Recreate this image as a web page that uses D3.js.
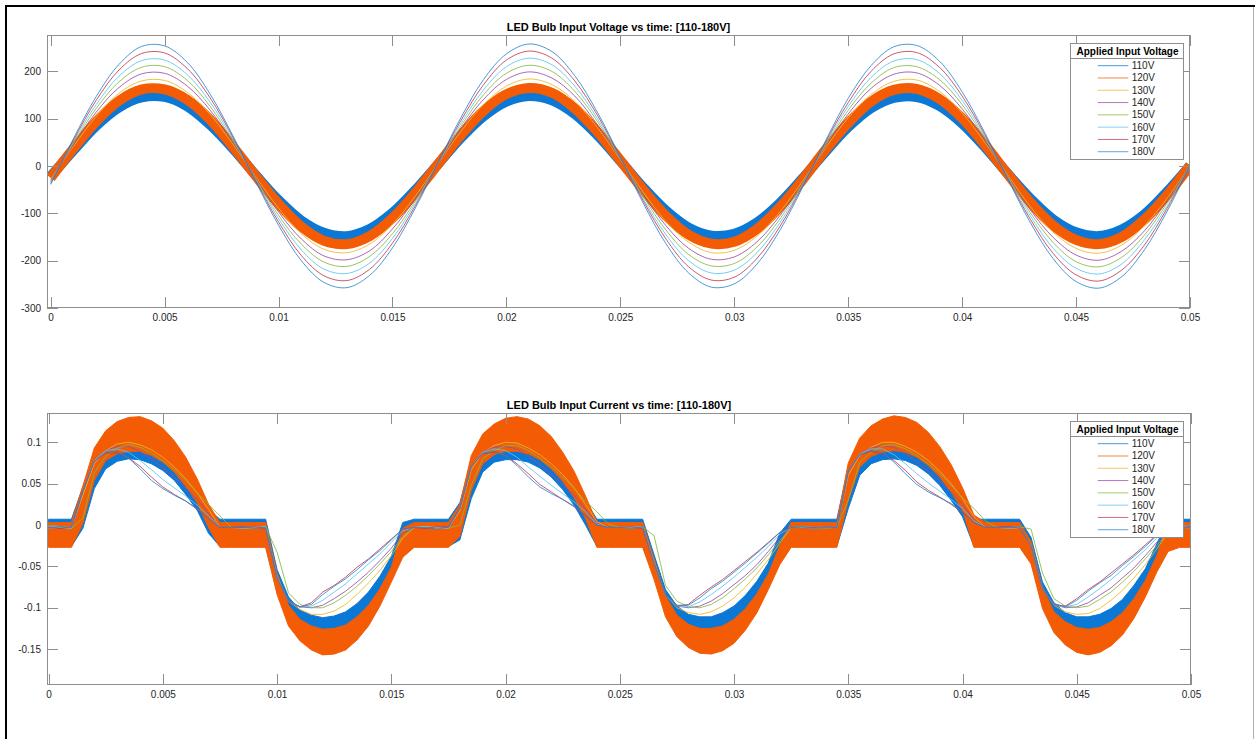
<!DOCTYPE html>
<html>
<head>
<meta charset="utf-8">
<script src="https://cdn.jsdelivr.net/npm/d3@7"></script>
<style>
  body { margin: 0; background: #fff; }
  svg { display: block; font-family: "Liberation Sans", Arial, Helvetica, sans-serif; }
</style>
</head>
<body>
<svg id="chart" width="1255" height="739"></svg>
<script>
// ---------------- data ----------------
const seriesLabels = ["110V", "120V", "130V", "140V", "150V", "160V", "170V", "180V"];

// sample times (ms)
const voltageTimeMs = [0,1,2,3,4,5,6,7,8,9,10,11,12,13,14,15,16,17,18,19,20,21,22,23,24,25,26,27,28,29,30,31,32,33,34,35,36,37,38,39,40,41,42,43,44,45,46,47,48,49,50];
const currentTimeMs = [0,0.5,1,1.5,2,2.5,3,3.5,4,4.5,5,5.5,6,6.5,7,7.5,8,8.5,9,9.5,10,10.5,11,11.5,12,12.5,13,13.5,14,14.5,15,15.5,16,16.5,17,17.5,18,18.5,19,19.5,20,20.5,21,21.5,22,22.5,23,23.5,24,24.5,25,25.5,26,26.5,27,27.5,28,28.5,29,29.5,30,30.5,31,31.5,32,32.5,33,33.5,34,34.5,35,35.5,36,36.5,37,37.5,38,38.5,39,39.5,40,40.5,41,41.5,42,42.5,43,43.5,44,44.5,45,45.5,46,46.5,47,47.5,48,48.5,49,49.5,50];

// input voltage (V)
const v110 = [-22,33,85,124,145,146,126,87,37,-19,-72,-115,-141,-148,-133,-99,-51,4,59,105,136,148,139,110,65,11,-45,-94,-130,-147,-143,-119,-78,-26,30,82,122,144,146,127,90,40,-16,-69,-113,-140,-148,-134,-102,-54,1];
const v120 = [-25,37,94,138,162,162,140,98,41,-21,-80,-128,-158,-165,-148,-110,-57,4,65,117,152,165,155,122,72,12,-50,-105,-145,-164,-160,-133,-87,-29,34,91,136,161,163,142,101,45,-17,-77,-126,-156,-165,-150,-113,-61,1];
const v130 = [-28,42,105,154,180,181,156,109,46,-23,-89,-143,-176,-183,-165,-123,-64,5,73,130,169,184,172,137,81,14,-55,-117,-161,-183,-178,-148,-97,-32,38,102,151,179,182,158,112,50,-19,-86,-140,-174,-184,-167,-126,-68,1];
const v140 = [-30,45,114,166,195,196,169,118,50,-25,-97,-154,-190,-198,-179,-133,-69,5,79,141,183,199,186,148,87,15,-60,-126,-174,-197,-192,-160,-105,-35,41,110,164,194,197,171,121,54,-21,-93,-151,-188,-199,-180,-137,-73,1];
const v150 = [-32,48,122,178,209,210,181,126,53,-27,-104,-165,-203,-212,-191,-143,-74,6,84,151,196,213,200,158,94,16,-64,-135,-187,-211,-206,-171,-112,-37,43,118,175,208,210,183,130,58,-22,-99,-162,-202,-213,-193,-146,-78,1];
const v160 = [-34,52,130,190,223,224,193,135,57,-29,-111,-177,-218,-227,-205,-153,-79,6,90,161,210,228,214,169,100,17,-69,-145,-200,-226,-220,-183,-120,-40,47,126,187,222,225,196,139,62,-24,-106,-174,-216,-228,-207,-156,-84,1];
const v170 = [-37,55,139,203,238,239,206,144,61,-31,-118,-189,-232,-242,-218,-163,-84,7,96,172,224,243,228,180,107,18,-73,-154,-213,-241,-235,-195,-128,-42,50,134,200,237,240,209,148,66,-26,-113,-185,-230,-243,-220,-167,-89,1];
const v180 = [-39,58,147,215,253,254,219,152,64,-33,-125,-200,-246,-257,-231,-173,-89,7,102,183,237,258,242,191,113,19,-78,-164,-226,-256,-249,-207,-136,-45,53,143,212,252,255,222,157,70,-27,-120,-196,-244,-258,-234,-177,-95,1];
// peak-to-peak switching ripple riding on the 110V / 120V traces (V)
const voltageRippleV = 21;

// input current (A); 110V and 120V traces are noisy, kept as envelope (upper / lower)
const i110Hi = [0.007,0.007,0.007,
  0.046,0.083,0.096,0.099,0.100,0.099,0.096,0.089,0.079,0.064,0.046,0.019,0.007,0.007,
  0.007,0.007,0.007,
  -0.054,-0.087,-0.103,-0.109,-0.112,-0.110,-0.105,-0.095,-0.081,-0.062,-0.038,0.003,0.007,
  0.007,0.007,0.007,
  0.027,0.077,0.094,0.099,0.100,0.099,0.097,0.092,0.082,0.069,0.052,0.029,0.007,0.007,0.007,
  0.007,0.007,
  -0.036,-0.078,-0.098,-0.108,-0.111,-0.111,-0.106,-0.098,-0.085,-0.068,-0.046,-0.010,0.007,
  0.007,0.007,0.007,
  0.007,0.070,0.092,0.098,0.100,0.100,0.098,0.094,0.086,0.074,0.058,0.038,0.007,0.007,0.007,
  0.007,0.007,
  -0.015,-0.069,-0.094,-0.106,-0.111,-0.111,-0.108,-0.101,-0.090,-0.073,-0.053,-0.023,0.007,
  0.007,0.007];
const i110Lo = [-0.026,-0.026,-0.026,
  -0.004,0.044,0.068,0.077,0.080,0.079,0.074,0.066,0.054,0.037,0.018,-0.010,-0.026,-0.026,
  -0.026,-0.026,-0.026,
  -0.079,-0.112,-0.127,-0.134,-0.137,-0.135,-0.131,-0.121,-0.107,-0.087,-0.063,-0.038,-0.026,
  -0.026,-0.026,-0.026,
  -0.018,0.032,0.064,0.076,0.079,0.079,0.076,0.069,0.058,0.043,0.024,0.000,-0.026,-0.026,-0.026,
  -0.026,-0.026,
  -0.061,-0.103,-0.123,-0.132,-0.136,-0.136,-0.132,-0.124,-0.111,-0.093,-0.070,-0.046,-0.026,
  -0.026,-0.026,-0.026,
  -0.026,0.020,0.060,0.074,0.079,0.080,0.078,0.072,0.062,0.048,0.030,0.010,-0.026,-0.026,-0.026,
  -0.026,-0.026,
  -0.045,-0.094,-0.119,-0.130,-0.136,-0.136,-0.134,-0.127,-0.116,-0.099,-0.078,-0.053,-0.028,
  -0.026,-0.026];
const i120Hi = [0.003,0.003,0.003,
  0.047,0.093,0.114,0.125,0.130,0.131,0.126,0.117,0.102,0.082,0.056,0.025,0.003,0.003,
  0.003,0.003,0.003,
  -0.059,-0.097,-0.114,-0.122,-0.126,-0.125,-0.121,-0.111,-0.097,-0.077,-0.051,-0.004,0.003,
  0.003,0.003,0.003,
  0.025,0.084,0.110,0.122,0.129,0.131,0.128,0.120,0.107,0.088,0.065,0.035,0.003,0.003,0.003,
  0.003,0.003,
  -0.041,-0.086,-0.109,-0.120,-0.125,-0.125,-0.122,-0.114,-0.101,-0.083,-0.059,-0.025,0.003,
  0.003,0.003,0.003,
  0.003,0.075,0.105,0.120,0.128,0.132,0.130,0.124,0.112,0.095,0.073,0.045,0.012,0.003,0.003,
  0.003,0.003,
  -0.020,-0.076,-0.105,-0.117,-0.124,-0.126,-0.124,-0.117,-0.106,-0.089,-0.067,-0.037,0.003,
  0.003,0.003];
const i120Lo = [-0.027,-0.027,-0.027,
  0.002,0.054,0.078,0.086,0.089,0.089,0.084,0.076,0.064,0.047,0.027,-0.003,-0.027,-0.027,
  -0.027,-0.027,-0.027,
  -0.084,-0.122,-0.140,-0.151,-0.157,-0.156,-0.151,-0.139,-0.122,-0.098,-0.069,-0.039,-0.027,
  -0.027,-0.027,-0.027,
  -0.014,0.042,0.074,0.085,0.089,0.089,0.086,0.079,0.068,0.053,0.033,0.008,-0.027,-0.027,-0.027,
  -0.027,-0.027,
  -0.066,-0.111,-0.135,-0.148,-0.155,-0.156,-0.152,-0.143,-0.127,-0.106,-0.078,-0.048,-0.027,
  -0.027,-0.027,-0.027,
  -0.027,0.030,0.070,0.083,0.088,0.090,0.088,0.082,0.072,0.058,0.040,0.018,-0.027,-0.027,-0.027,
  -0.027,-0.027,
  -0.047,-0.101,-0.130,-0.145,-0.154,-0.157,-0.154,-0.146,-0.133,-0.113,-0.087,-0.057,-0.032,
  -0.027,-0.027];
const i130 = [-0.004,-0.003,-0.002,
  0.036,0.074,0.090,0.098,0.100,0.097,0.091,0.082,0.070,0.056,0.039,0.019,-0.003,-0.003,
  -0.003,-0.002,-0.004,
  -0.062,-0.092,-0.102,-0.108,-0.108,-0.104,-0.096,-0.084,-0.070,-0.055,-0.037,-0.016,-0.003,
  -0.002,-0.004,-0.003,
  0.017,0.067,0.087,0.096,0.100,0.099,0.093,0.085,0.074,0.061,0.045,0.025,0.004,-0.003,-0.003,
  -0.002,-0.003,
  -0.044,-0.084,-0.100,-0.106,-0.108,-0.105,-0.098,-0.088,-0.075,-0.059,-0.042,-0.022,-0.003,
  -0.004,-0.002,-0.003,
  -0.003,0.060,0.084,0.094,0.100,0.100,0.095,0.088,0.078,0.065,0.050,0.032,0.010,-0.003,-0.003,
  -0.003,-0.004,
  -0.024,-0.076,-0.097,-0.105,-0.108,-0.107,-0.101,-0.091,-0.079,-0.064,-0.048,-0.029,-0.009,
  -0.002,-0.003];
const i140 = [-0.002,-0.004,-0.003,
  0.041,0.078,0.090,0.095,0.095,0.089,0.080,0.069,0.058,0.045,0.031,0.014,-0.003,-0.003,
  -0.002,-0.003,-0.004,
  -0.064,-0.092,-0.099,-0.100,-0.097,-0.089,-0.080,-0.069,-0.057,-0.043,-0.028,-0.010,-0.003,
  -0.004,-0.003,-0.002,
  0.020,0.071,0.088,0.094,0.095,0.092,0.083,0.073,0.061,0.049,0.036,0.019,0.002,-0.003,-0.003,
  -0.003,-0.004,
  -0.046,-0.084,-0.098,-0.100,-0.098,-0.092,-0.083,-0.072,-0.061,-0.048,-0.032,-0.015,-0.003,
  -0.003,-0.002,-0.004,
  -0.003,0.065,0.086,0.093,0.096,0.094,0.086,0.076,0.065,0.053,0.040,0.025,0.006,-0.003,-0.003,
  -0.002,-0.003,
  -0.025,-0.077,-0.096,-0.100,-0.099,-0.094,-0.085,-0.076,-0.064,-0.052,-0.037,-0.021,-0.006,
  -0.004,-0.002];
const i150 = [-0.003,-0.002,-0.004,
  0.008,0.063,0.083,0.093,0.097,0.094,0.087,0.078,0.067,0.054,0.039,0.025,0.011,-0.003,
  -0.003,-0.004,-0.002,
  -0.033,-0.082,-0.096,-0.100,-0.100,-0.094,-0.085,-0.074,-0.061,-0.047,-0.032,-0.014,-0.003,
  -0.003,-0.002,-0.004,
  0.000,0.048,0.080,0.090,0.096,0.096,0.090,0.081,0.070,0.058,0.044,0.029,0.016,0.001,-0.003,
  -0.004,-0.002,
  -0.013,-0.073,-0.092,-0.099,-0.100,-0.096,-0.088,-0.077,-0.065,-0.052,-0.036,-0.019,-0.003,
  -0.002,-0.003,-0.004,
  -0.003,0.030,0.076,0.088,0.096,0.097,0.092,0.084,0.074,0.062,0.048,0.033,0.020,0.005,-0.003,
  -0.003,-0.002,
  -0.005,-0.058,-0.089,-0.098,-0.100,-0.098,-0.090,-0.081,-0.069,-0.056,-0.041,-0.025,-0.008,
  -0.003,-0.004];
const i160 = [-0.002,-0.003,-0.004,
  0.041,0.078,0.090,0.092,0.088,0.078,0.067,0.055,0.045,0.035,0.024,0.011,-0.003,-0.003,
  -0.004,-0.003,-0.002,
  -0.064,-0.092,-0.099,-0.098,-0.091,-0.081,-0.071,-0.059,-0.047,-0.035,-0.021,-0.007,-0.003,
  -0.002,-0.003,-0.004,
  0.020,0.071,0.088,0.092,0.090,0.082,0.070,0.059,0.048,0.038,0.028,0.016,0.001,-0.003,-0.003,
  -0.003,-0.002,
  -0.046,-0.084,-0.098,-0.099,-0.093,-0.084,-0.074,-0.063,-0.051,-0.039,-0.026,-0.011,-0.003,
  -0.003,-0.004,-0.002,
  -0.003,0.065,0.086,0.092,0.092,0.085,0.074,0.062,0.051,0.041,0.031,0.020,0.005,-0.003,-0.003,
  -0.004,-0.003,
  -0.025,-0.077,-0.096,-0.099,-0.096,-0.087,-0.077,-0.066,-0.054,-0.042,-0.030,-0.016,-0.004,
  -0.002,-0.003];
const i170 = [-0.003,-0.004,-0.002,
  0.041,0.077,0.087,0.087,0.081,0.071,0.058,0.046,0.037,0.029,0.019,0.008,-0.003,-0.003,
  -0.003,-0.002,-0.004,
  -0.064,-0.092,-0.099,-0.094,-0.081,-0.073,-0.063,-0.051,-0.041,-0.029,-0.017,-0.005,-0.003,
  -0.004,-0.002,-0.003,
  0.020,0.071,0.086,0.088,0.084,0.074,0.062,0.049,0.040,0.031,0.022,0.011,0.000,-0.003,-0.003,
  -0.002,-0.004,
  -0.046,-0.084,-0.098,-0.096,-0.085,-0.075,-0.066,-0.055,-0.044,-0.033,-0.021,-0.009,-0.003,
  -0.004,-0.003,-0.002,
  -0.003,0.065,0.085,0.089,0.086,0.078,0.066,0.052,0.042,0.034,0.025,0.015,0.003,-0.003,-0.003,
  -0.002,-0.004,
  -0.025,-0.077,-0.096,-0.098,-0.089,-0.078,-0.069,-0.058,-0.047,-0.036,-0.024,-0.012,-0.003,
  -0.003,-0.002];
const i180 = [-0.004,-0.002,-0.003,
  0.041,0.077,0.088,0.089,0.081,0.068,0.054,0.044,0.036,0.029,0.020,0.008,-0.003,-0.003,
  -0.002,-0.004,-0.003,
  -0.064,-0.091,-0.099,-0.096,-0.084,-0.074,-0.065,-0.054,-0.042,-0.031,-0.018,-0.005,-0.003,
  -0.003,-0.005,-0.002,
  0.020,0.071,0.087,0.089,0.084,0.072,0.058,0.046,0.038,0.031,0.023,0.012,0.000,-0.003,-0.003,
  -0.004,-0.002,
  -0.046,-0.084,-0.097,-0.097,-0.088,-0.077,-0.068,-0.057,-0.046,-0.034,-0.022,-0.009,-0.003,
  -0.002,-0.004,-0.003,
  -0.003,0.065,0.085,0.090,0.088,0.076,0.062,0.049,0.040,0.033,0.026,0.016,0.003,-0.003,-0.003,
  -0.003,-0.002,
  -0.025,-0.077,-0.095,-0.099,-0.091,-0.080,-0.070,-0.061,-0.049,-0.038,-0.026,-0.013,-0.003,
  -0.004,-0.003];

// axis ticks
const xTickValues = [0,0.005,0.01,0.015,0.02,0.025,0.03,0.035,0.04,0.045,0.05];
const xTickLabels = ["0","0.005","0.01","0.015","0.02","0.025","0.03","0.035","0.04","0.045","0.05"];
const vTickValues = [-300,-200,-100,0,100,200];
const vTickLabels = ["-300","-200","-100","0","100","200"];
const iTickValues = [-0.15,-0.1,-0.05,0,0.05,0.1];
const iTickLabels = ["-0.15","-0.1","-0.05","0","0.05","0.1"];

// ---------------- styles ----------------
const seriesColors = ["#0a78d4", "#f35c05", "#efb62a", "#9a4aa8", "#86b840", "#5cc4ef", "#c23a52", "#2a86d0"];
const AXIS = "#8e8e8e";
const INK = "#262626";
const FONT = '"Liberation Sans", Arial, Helvetica, sans-serif';

const svg = d3.select("#chart");
const defs = svg.append("defs");

// figure frame
svg.append("rect").attr("x", 0).attr("y", 0).attr("width", 1255).attr("height", 739).attr("fill", "#fff");
svg.append("line").attr("x1", 5).attr("x2", 1255).attr("y1", 6).attr("y2", 6)
  .attr("stroke", "#000").attr("stroke-width", 2);
svg.append("line").attr("x1", 6).attr("x2", 6).attr("y1", 5).attr("y2", 739)
  .attr("stroke", "#000").attr("stroke-width", 2);
svg.append("line").attr("x1", 1253.5).attr("x2", 1253.5).attr("y1", 7).attr("y2", 739)
  .attr("stroke", "#b0b0b0").attr("stroke-width", 1);

function makePanel(cfg) {
  const { id, left, right, top, bottom, xDomain, yDomain, yTicks, yLabels, title } = cfg;
  const x = d3.scaleLinear().domain(xDomain).range([left, right]);
  const y = d3.scaleLinear().domain(yDomain).range([bottom, top]);

  defs.append("clipPath").attr("id", id).append("rect")
    .attr("x", left).attr("y", top).attr("width", right - left).attr("height", bottom - top);

  const plot = svg.append("g").attr("clip-path", `url(#${id})`);
  const axes = svg.append("g");

  const styleAxis = g => {
    g.attr("color", AXIS).attr("font-family", FONT).attr("font-size", 10);
    g.select(".domain").remove();
    g.selectAll(".tick line").attr("shape-rendering", "crispEdges");
    g.selectAll(".tick text").attr("fill", INK);
  };

  axes.append("g").attr("transform", `translate(0,${bottom})`)
    .call(d3.axisBottom(x).tickValues(xTickValues).tickFormat((d, i) => xTickLabels[i])
      .tickSize(-11).tickSizeOuter(0).tickPadding(6))
    .call(styleAxis);
  axes.append("g").attr("transform", `translate(0,${top})`)
    .call(d3.axisTop(x).tickValues(xTickValues).tickFormat("").tickSize(-11).tickSizeOuter(0))
    .call(styleAxis);
  axes.append("g").attr("transform", `translate(${left},0)`)
    .call(d3.axisLeft(y).tickValues(yTicks).tickFormat((d, i) => yLabels[i])
      .tickSize(-11).tickSizeOuter(0).tickPadding(6))
    .call(styleAxis);
  axes.append("g").attr("transform", `translate(${right},0)`)
    .call(d3.axisRight(y).tickValues(yTicks).tickFormat("").tickSize(-11).tickSizeOuter(0))
    .call(styleAxis);

  axes.append("rect").attr("x", left + 0.5).attr("y", top + 0.5)
    .attr("width", right - left - 1).attr("height", bottom - top - 1)
    .attr("fill", "none").attr("stroke", AXIS).attr("stroke-width", 1)
    .attr("shape-rendering", "crispEdges");

  svg.append("text").attr("x", (left + right) / 2).attr("y", top - 4)
    .attr("text-anchor", "middle").attr("font-family", FONT).attr("font-size", 11)
    .attr("font-weight", "bold").attr("fill", "#000").text(title);

  return { x, y, plot };
}

function drawLegend(top) {
  const L = 1070, R = 1183, rowGap = 12.29;
  const g = svg.append("g").attr("font-family", FONT);
  g.append("rect").attr("x", L + 0.5).attr("y", top + 0.5).attr("width", R - L).attr("height", 116)
    .attr("fill", "#fff").attr("stroke", AXIS).attr("shape-rendering", "crispEdges");
  g.append("text").attr("x", (L + R) / 2 + 1).attr("y", top + 8).attr("dy", "0.35em")
    .attr("text-anchor", "middle").attr("font-size", 10).attr("font-weight", "bold")
    .attr("fill", "#000").text("Applied Input Voltage");
  g.append("line").attr("x1", L).attr("x2", R + 1).attr("y1", top + 15.5).attr("y2", top + 15.5)
    .attr("stroke", AXIS).attr("shape-rendering", "crispEdges");
  seriesLabels.forEach((lab, i) => {
    const yy = top + 22.7 + i * rowGap;
    g.append("line").attr("x1", 1097.7).attr("x2", 1128.3).attr("y1", yy).attr("y2", yy)
      .attr("stroke", seriesColors[i]).attr("stroke-width", 1).attr("stroke-opacity", 0.75);
    g.append("text").attr("x", 1131.7).attr("y", yy).attr("dy", "0.35em")
      .attr("font-size", 10).attr("fill", INK).text(lab);
  });
}

// ---------------- voltage panel ----------------
const vp = makePanel({
  id: "clipV", left: 47, right: 1190, top: 35, bottom: 308,
  xDomain: [-0.00016, 0.05], yDomain: [-300, 277],
  yTicks: vTickValues, yLabels: vTickLabels,
  title: "LED Bulb Input Voltage vs time: [110-180V]"
});
const voltageSeries = [v110, v120, v130, v140, v150, v160, v170, v180];
const ripplePx = Math.abs(vp.y(0) - vp.y(voltageRippleV));
const vLine = d3.line().x(d => vp.x(d[0])).y(d => vp.y(d[1])).curve(d3.curveCatmullRom);
voltageSeries.forEach((vals, s) => {
  const pts = voltageTimeMs.map((t, k) => [t / 1000, vals[k]]);
  vp.plot.append("path").datum(pts).attr("d", vLine)
    .attr("fill", "none").attr("stroke", seriesColors[s])
    .attr("stroke-width", s < 2 ? ripplePx : 0.85)
    .attr("stroke-linejoin", "round");
});
drawLegend(43);

// ---------------- current panel ----------------
const ip = makePanel({
  id: "clipI", left: 47, right: 1191, top: 413, bottom: 685,
  xDomain: [-0.00007, 0.05], yDomain: [-0.1934, 0.1354],
  yTicks: iTickValues, yLabels: iTickLabels,
  title: "LED Bulb Input Current vs time: [110-180V]"
});
const bands = [[i110Lo, i110Hi], [i120Lo, i120Hi]];
const band = d3.area().x(d => ip.x(d[0])).y0(d => ip.y(d[1])).y1(d => ip.y(d[2]));
bands.forEach(([lo, hi], s) => {
  const pts = currentTimeMs.map((t, k) => [t / 1000, lo[k], hi[k]]);
  ip.plot.append("path").datum(pts).attr("d", band)
    .attr("fill", seriesColors[s]).attr("stroke", seriesColors[s]).attr("stroke-width", 1);
});
const thinCurrent = [i130, i140, i150, i160, i170, i180];
const iLine = d3.line().x(d => ip.x(d[0])).y(d => ip.y(d[1]));
thinCurrent.forEach((vals, j) => {
  const pts = currentTimeMs.map((t, k) => [t / 1000, vals[k]]);
  ip.plot.append("path").datum(pts).attr("d", iLine)
    .attr("fill", "none").attr("stroke", seriesColors[j + 2]).attr("stroke-width", 0.85);
});
drawLegend(421);
</script>
</body>
</html>
